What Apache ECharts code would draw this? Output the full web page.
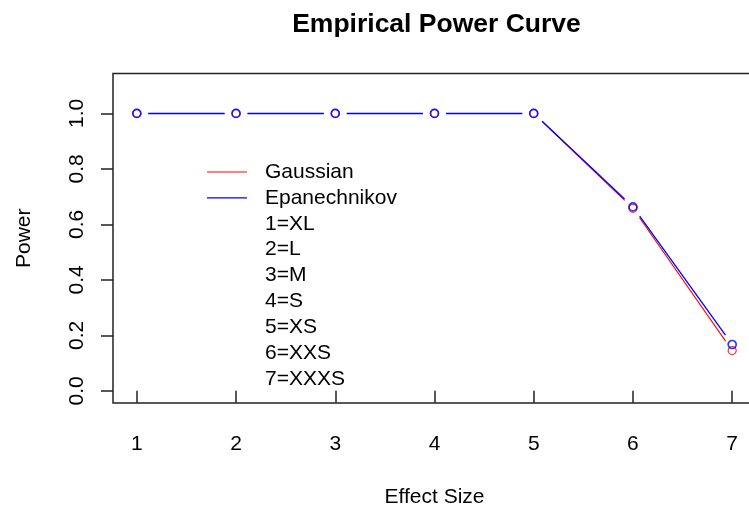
<!DOCTYPE html>
<html>
<head>
<meta charset="utf-8">
<script src="https://cdn.jsdelivr.net/npm/echarts@6/dist/echarts.min.js"></script>
<style>
  html, body { margin: 0; padding: 0; background: #fff; }
  #chart { width: 749px; height: 510px; }
</style>
</head>
<body>
<div id="chart"></div>
<script>
// Effect size index (1 = XL ... 7 = XXXS) and the estimated power per kernel
const effectSizes = [1, 2, 3, 4, 5, 6, 7];
const gaussianPower = [1, 1, 1, 1, 1, 0.658, 0.145];
const epanechnikovPower = [1, 1, 1, 1, 1, 0.663, 0.167];

const xTicks = [1, 2, 3, 4, 5, 6, 7];
const yTicks = [0, 0.2, 0.4, 0.6, 0.8, 1.0];
const keyLabels = ['1=XL', '2=L', '3=M', '4=S', '5=XS', '6=XXS', '7=XXXS'];

const RED = '#ff0000';
const BLUE = '#0000ff';
const INK = '#000000';
const FONT = '"Liberation Sans", Arial, sans-serif';
const GAP = 11.5;          // gap left around each point, like type = "b"

function segmentsOf(values) {
  const segs = [];
  for (let i = 0; i < values.length - 1; i++) {
    segs.push([effectSizes[i], values[i], effectSizes[i + 1], values[i + 1]]);
  }
  return segs;
}

// snap to the pixel grid so horizontal runs stay crisp
const snap = v => Math.round(v - 0.5) + 0.5;

function gappedLine(name, color, values, width) {
  return {
    type: 'custom',
    name: name,
    data: segmentsOf(values),
    encode: { x: [0, 2], y: [1, 3] },
    silent: true,
    renderItem: function (params, api) {
      const a = api.coord([api.value(0), api.value(1)]);
      const b = api.coord([api.value(2), api.value(3)]);
      const dx = b[0] - a[0], dy = b[1] - a[1];
      const len = Math.hypot(dx, dy);
      if (len <= 2 * GAP) return null;
      const ux = dx / len, uy = dy / len;
      let y1 = a[1] + uy * GAP, y2 = b[1] - uy * GAP;
      if (Math.abs(dy) < 0.5) { y1 = snap(y1); y2 = y1; }
      return {
        type: 'line',
        shape: { x1: a[0] + ux * GAP, y1: y1, x2: b[0] - ux * GAP, y2: y2 },
        style: { stroke: color, lineWidth: width }
      };
    }
  };
}

function openPoints(name, color, values, border) {
  return {
    type: 'scatter',
    name: name,
    data: effectSizes.map((x, i) => [x, values[i]]),
    symbol: 'circle',
    symbolSize: 8,
    silent: true,
    itemStyle: { color: 'rgba(0,0,0,0)', borderColor: color, borderWidth: border },
    emphasis: { disabled: true }
  };
}

// Key drawn without a frame: two line samples, then the size codes
const keyRows = [
  { text: 'Gaussian', color: RED },
  { text: 'Epanechnikov', color: BLUE }
].concat(keyLabels.map(t => ({ text: t, color: null })));

const ROW = 25.9;
const keyChildren = [];
keyRows.forEach((row, i) => {
  const y = i * ROW;
  if (row.color) {
    keyChildren.push({
      type: 'line',
      shape: { x1: 0, y1: y, x2: 40, y2: y },
      style: { stroke: row.color, lineWidth: 1.2 }
    });
  }
  keyChildren.push({
    type: 'text',
    x: 58, y: y,
    style: {
      text: row.text, fill: INK, font: '21px ' + FONT,
      verticalAlign: 'middle'
    }
  });
});

const chart = echarts.init(document.getElementById('chart'), null, { renderer: 'canvas' });

chart.setOption({
  animation: false,
  backgroundColor: '#ffffff',
  textStyle: { fontFamily: FONT, color: INK },
  title: {
    text: 'Empirical Power Curve',
    left: 431.5,
    top: 6,
    textAlign: 'center',
    textStyle: { fontFamily: FONT, fontSize: 26.5, fontWeight: 'bold', color: INK }
  },
  grid: {
    left: 113, top: 73.5, width: 643, height: 329.5,
    outerBoundsMode: 'none',
    containLabel: false,
    show: true, borderColor: '#222', borderWidth: 1.5, backgroundColor: 'transparent'
  },
  xAxis: {
    type: 'value',
    min: 0.76, max: 7.24,
    name: 'Effect Size',
    nameLocation: 'middle',
    nameGap: 84,
    nameTextStyle: { fontFamily: FONT, fontSize: 21, color: INK },
    axisLine: { show: false },
    splitLine: { show: false },
    axisTick: {
      show: true, inside: false, length: 12, customValues: xTicks,
      lineStyle: { color: '#222', width: 1.5 }
    },
    axisLabel: {
      show: true, margin: 31, customValues: xTicks,
      fontFamily: FONT, fontSize: 21, color: INK,
      formatter: v => String(v)
    }
  },
  yAxis: {
    type: 'value',
    min: -0.044, max: 1.144,
    name: 'Power',
    nameLocation: 'middle',
    nameRotate: 90,
    nameGap: 78,
    nameTextStyle: { fontFamily: FONT, fontSize: 21, color: INK },
    axisLine: { show: false },
    splitLine: { show: false },
    axisTick: {
      show: true, inside: false, length: 12, customValues: yTicks,
      lineStyle: { color: '#222', width: 1.5 }
    },
    axisLabel: {
      show: true, margin: 25, rotate: 90, customValues: yTicks,
      fontFamily: FONT, fontSize: 21, color: INK,
      formatter: v => v.toFixed(1)
    }
  },
  graphic: [{
    type: 'group',
    left: 207, top: 172,
    bounding: 'raw',
    children: keyChildren
  }],
  series: [
    gappedLine('Gaussian', RED, gaussianPower, 1.1),
    openPoints('Gaussian', RED, gaussianPower, 1.3),
    gappedLine('Epanechnikov', BLUE, epanechnikovPower, 1.3),
    openPoints('Epanechnikov', BLUE, epanechnikovPower, 1.7)
  ]
});
</script>
</body>
</html>
